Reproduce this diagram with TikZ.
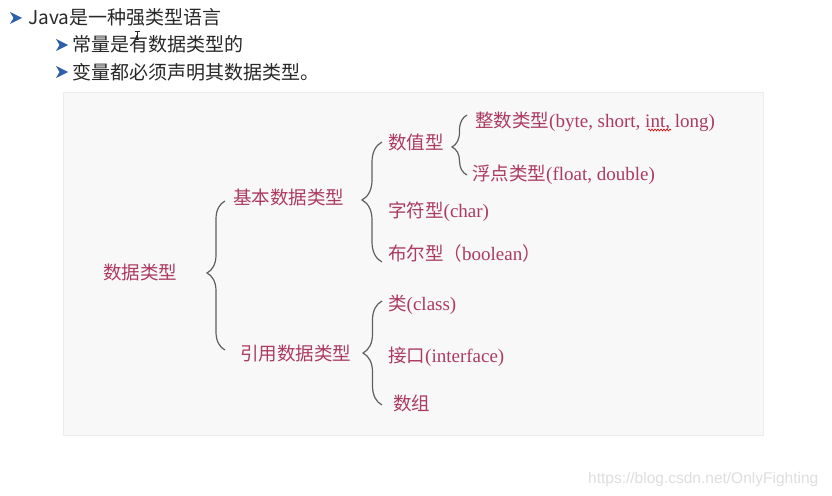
\documentclass[tikz,border=0pt]{standalone}
\usepackage{fontspec}
\setmainfont{Liberation Serif}
\newfontfamily\cjkfam{Noto Sans CJK SC}
\newfontfamily\wmfam{Liberation Sans}
\usetikzlibrary{decorations.pathreplacing,decorations.pathmorphing}
\definecolor{txtcol}{RGB}{172,58,98}
\definecolor{topcol}{RGB}{40,40,40}
\definecolor{bulcol}{RGB}{45,95,170}
\definecolor{panelcol}{RGB}{248,248,248}
\definecolor{paneledge}{RGB}{236,236,236}
\definecolor{bracecol}{RGB}{95,95,95}
\definecolor{wmcol}{RGB}{222,222,222}
\newcommand\zhtxt[1]{{\cjkfam\fontsize{18.5}{20}\selectfont #1}}
\begin{document}
\begin{tikzpicture}[x=1pt,y=-1pt,
  lbl/.style={anchor=base west,inner sep=0pt,text=txtcol,font=\fontsize{19}{20}\selectfont},
  toptxt/.style={anchor=base west,inner sep=0pt,text=topcol,font=\cjkfam\fontsize{19}{20}\selectfont},
  bul/.style={fill=bulcol},
  brc/.style={draw=bracecol,line width=1.2pt,decorate},
  wm/.style={anchor=base west,inner sep=0pt,text=wmcol,font=\wmfam\fontsize{15.5}{16}\selectfont}]
\path[use as bounding box] (0,0) rectangle (832,495);
\fill[white] (0,0) rectangle (832,495);
% panel
\fill[panelcol,draw=paneledge,line width=0.6pt] (63,92) rectangle (763,435);

% top bullet list
\fill[bul] (10,12) -- (22,18) -- (10,24) -- (13.5,18) -- cycle;
\node[toptxt] (t1) at (28,25) {Java是一种强类型语言};
\fill[bul] (56,39) -- (68,45) -- (56,51) -- (59.5,45) -- cycle;
\node[toptxt] (t2) at (72,52) {常量是有数据类型的};
\fill[bul] (56,66) -- (68,72) -- (56,78) -- (59.5,72) -- cycle;
\node[toptxt] (t3) at (72,79) {变量都必须声明其数据类型。};
% text cursor
\draw[topcol,line width=0.7pt] (134.5,31) -- (139.5,31) (137,31) -- (137,39) (135,39) -- (139,39);

% diagram labels
\node[lbl] (root) at (103,279) {\zhtxt{数据类型}};
\node[lbl] (basic) at (233,204) {\zhtxt{基本数据类型}};
\node[lbl] (ref) at (240,360) {\zhtxt{引用数据类型}};
\node[lbl] (num) at (388,149) {\zhtxt{数值型}};
\node[lbl] (chr) at (388,217) {\zhtxt{字符型}(char)};
\node[lbl] (bool) at (388,260) {\zhtxt{布尔型（}boolean\zhtxt{）}};
\node[lbl] (intn) at (475,127) {\zhtxt{整数类型}(byte, short, int, long)};
\node[lbl] (flt) at (472,180) {\zhtxt{浮点类型}(float, double)};
\node[lbl] (cls) at (388,310) {\zhtxt{类}(class)};
\node[lbl] (ifc) at (388,362) {\zhtxt{接口}(interface)};
\node[lbl] (arr) at (393,410) {\zhtxt{数组}};

% spell-check squiggle under "int"
\coordinate (sq1) at (648,130);
\coordinate (sq2) at (671,130);
\draw[red!85!black,line width=0.6pt,decorate,decoration={snake,amplitude=1pt,segment length=3pt}] (sq1) -- (sq2);

% braces
\coordinate (b1b) at (225,350); \coordinate (b1t) at (225,201);
\draw[brc,decoration={brace,amplitude=18pt,aspect=0.517}] (b1b) -- (b1t);
\coordinate (b2b) at (382,262); \coordinate (b2t) at (382,142);
\draw[brc,decoration={brace,amplitude=20pt,aspect=0.517}] (b2b) -- (b2t);
\coordinate (b3b) at (467,175); \coordinate (b3t) at (467,115);
\draw[brc,decoration={brace,amplitude=15pt,aspect=0.467}] (b3b) -- (b3t);
\coordinate (b4b) at (382,405); \coordinate (b4t) at (382,301);
\draw[brc,decoration={brace,amplitude=19pt,aspect=0.5}] (b4b) -- (b4t);

% watermark
\node[wm] (wmk) at (588,483) {https://blog.csdn.net/OnlyFighting};
\end{tikzpicture}
\end{document}
